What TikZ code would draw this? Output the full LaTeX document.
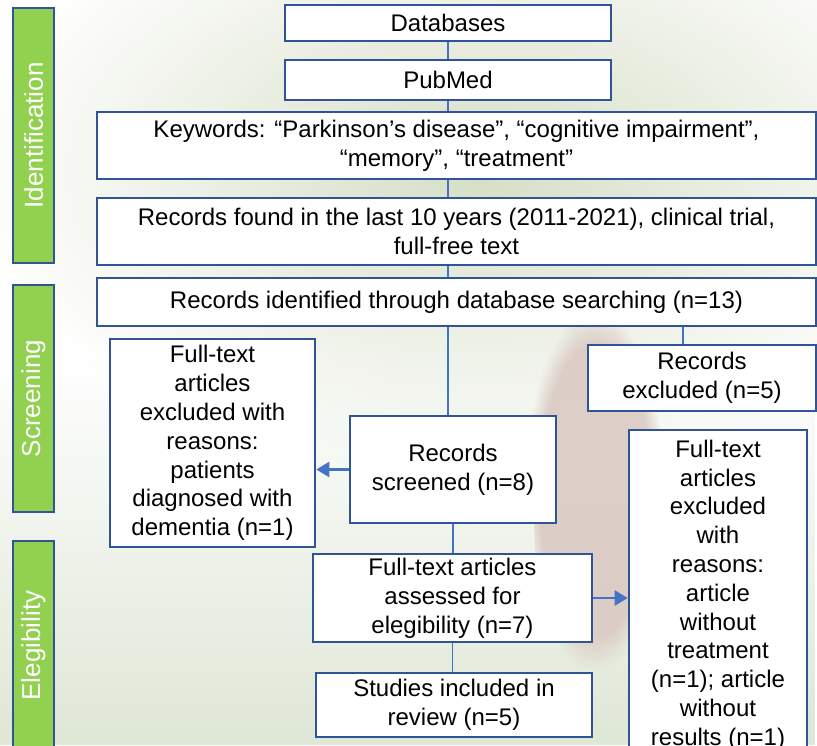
\documentclass[tikz,border=0pt]{standalone}
\usepackage{fontspec}
\setmainfont{Liberation Sans}
\usepackage{xcolor}
\usepackage{tikz}
\usetikzlibrary{arrows.meta,fadings}

\definecolor{boxblue}{HTML}{2F5597}
\definecolor{linkblue}{HTML}{4472C4}
\definecolor{stagegreen}{HTML}{92D050}
\definecolor{leafgreen}{HTML}{D6DEC6}
\definecolor{grassgreen}{HTML}{DFE7D6}
\definecolor{trunkbrown}{HTML}{D8C4BE}

\tikzset{
  box/.style={draw=boxblue, line width=2.6pt, fill=white, align=center,
    inner sep=0pt, font=\fontsize{24}{28.8}\selectfont},
  stage/.style={draw=boxblue, line width=2.6pt, fill=stagegreen, text=white,
    inner sep=0pt, rotate=90, minimum height=41pt, font=\fontsize{26}{30}\selectfont},
  link/.style={draw=linkblue, line width=1.3pt},
  arr/.style={draw=linkblue, line width=2.4pt, -{Triangle[length=13pt,width=15pt]}},
}

\begin{document}
\begin{tikzpicture}[x=1pt,y=-1pt]
            \useasboundingbox (0,0) rectangle (817,745);
            \clip (0,0) rectangle (817,745);
            %绘制背景
            \fill[white] (0,0) rectangle (817,745);
            \shade[inner color=leafgreen, outer color=white] (480,170) ellipse [x radius=520, y radius=300];
            \fill[grassgreen, path fading=north] (0,360) rectangle (817,745);
            \fill[trunkbrown, path fading=circle with fuzzy edge 20 percent, opacity=.8]
                (525,310) -- (665,310) -- (650,670) -- (540,670) -- cycle;
            %绘制左侧阶段标签
            \node[stage, minimum width=255pt] (sid) at (33.5,135.5) {Identification};
            \node[stage, minimum width=227pt] (ssc) at (33.5,398.5) {Screening};
            \node[stage, minimum width=209pt] (sel) at (33.5,645.5) {Elegibility};
            %绘制检索部分
            \node[box, minimum width=326pt, minimum height=36pt] (db) at (448,23) {Databases};
            \node[box, minimum width=326pt, minimum height=40pt] (pub) at (448,80) {PubMed};
            \node[box, minimum width=719pt, minimum height=67pt] (kw) at (456.5,145.5)
                {Keywords: “Parkinson’s disease”, “cognitive impairment”,\\“memory”, “treatment”};
            \node[box, minimum width=719pt, minimum height=67pt] (found) at (456.5,231.5)
                {Records found in the last 10 years (2011-2021), clinical trial,\\full-free text};
            \node[box, minimum width=719pt, minimum height=48pt] (ident) at (456.5,302)
                {Records identified through database searching (n=13)};
            %绘制筛选部分
            \node[box, minimum width=228pt, minimum height=66pt] (recexcl) at (702,378)
                {Records\\excluded (n=5)};
            \node[box, minimum width=206pt, minimum height=107pt] (screened) at (453,469.5)
                {Records\\screened (n=8)};
            \node[box, minimum width=205pt, minimum height=208pt] (ftleft) at (212.5,443)
                {Full-text\\articles\\excluded with\\reasons:\\patients\\diagnosed with\\dementia (n=1)};
            %绘制纳入部分
            \node[box, minimum width=279pt, minimum height=88pt] (assessed) at (452.5,598)
                {Full-text articles\\assessed for\\elegibility (n=7)};
            \node[box, minimum width=276pt, minimum height=64pt] (studies) at (454,705)
                {Studies included in\\review (n=5)};
            \node[box, minimum width=178pt, minimum height=330pt] (ftright) at (718,595)
                {Full-text\\articles\\excluded\\with\\reasons:\\article\\without\\treatment\\(n=1); article\\without\\results (n=1)};
            %绘制连线
            \foreach \a/\b in {db/pub, pub/kw, kw/found, found/ident, ident/screened}
                {\draw[link] (\a.south -| pub.south) -- (\b.north -| pub.south);}
            \draw[link] ([xshift=-19pt]recexcl.north) -- ([xshift=-19pt]recexcl.north |- ident.south);
            \draw[link] (screened.south) -- (screened.south |- assessed.north);
            \draw[link] (assessed.south) -- (assessed.south |- studies.north);
            %绘制箭头
            \draw[arr] (screened.west) -- (screened.west -| ftleft.east);
            \draw[arr] (assessed.east) -- (assessed.east -| ftright.west);
        \end{tikzpicture}
\end{document}
